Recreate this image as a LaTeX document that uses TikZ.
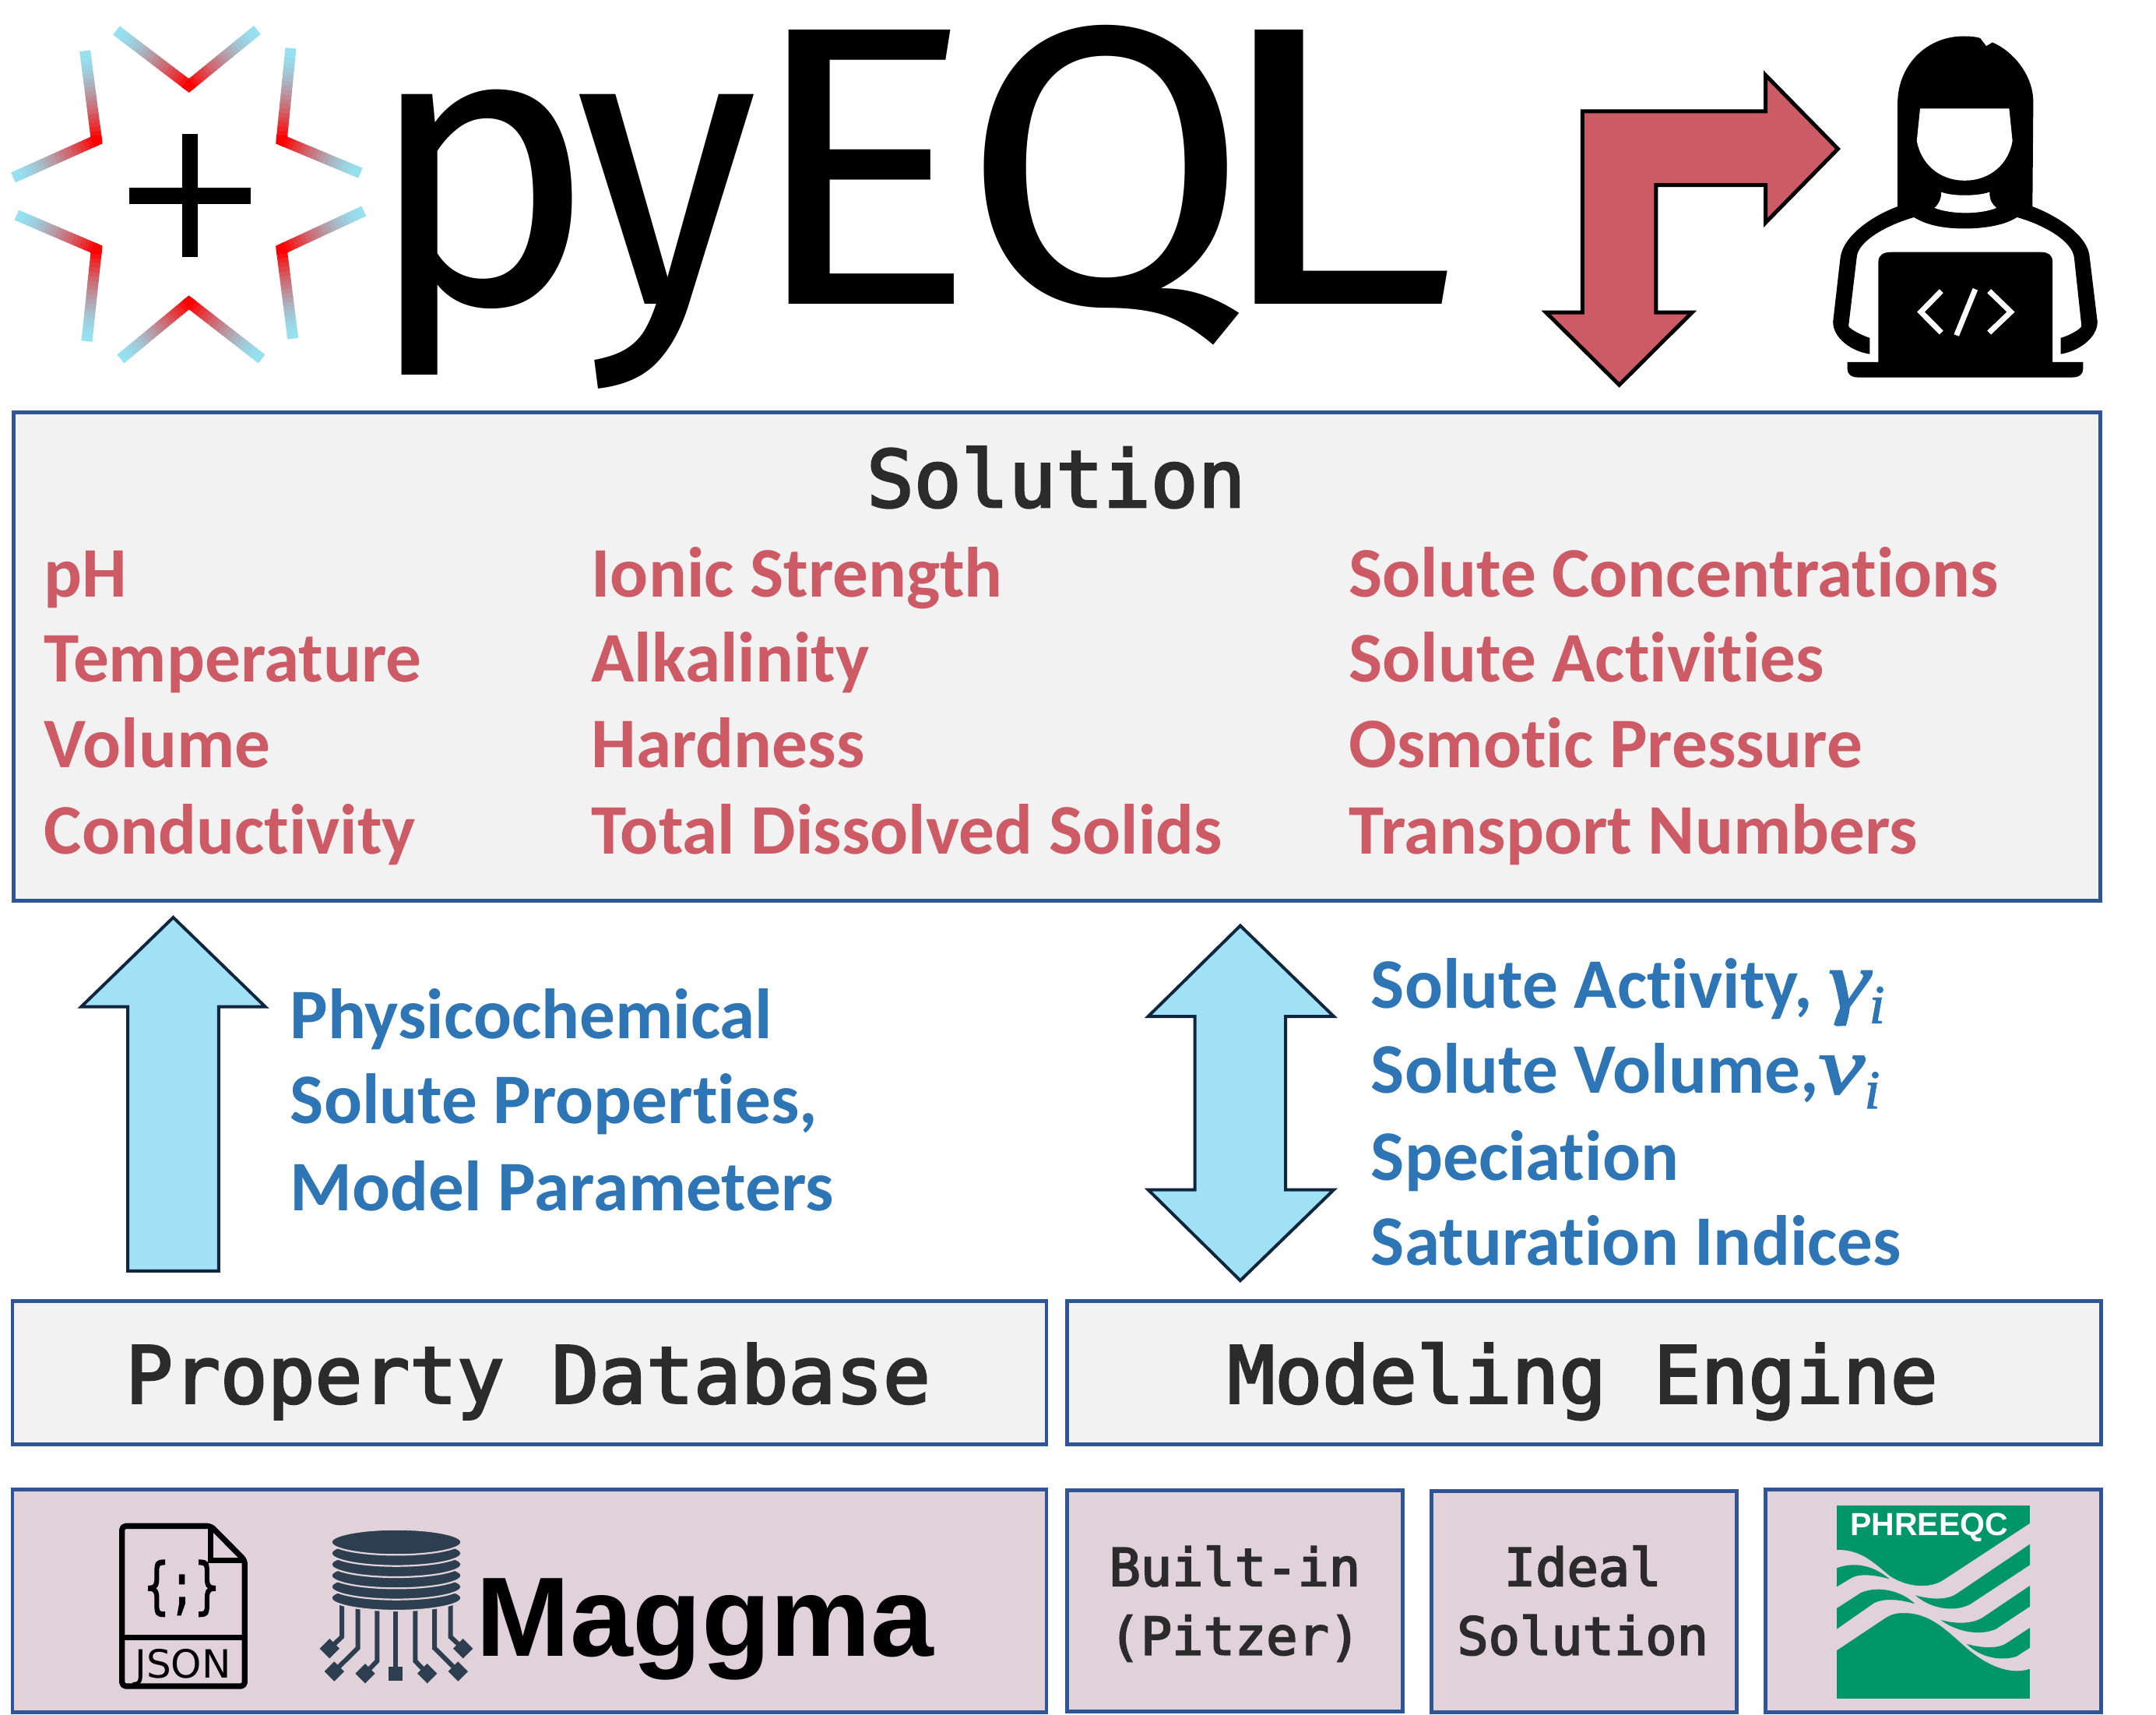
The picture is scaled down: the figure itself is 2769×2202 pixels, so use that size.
\documentclass[tikz,border=0pt]{standalone}
\usepackage{fontspec}
\usetikzlibrary{calc}
\setmainfont{Carlito}[Ligatures=NoCommon]
\newfontfamily\logofont{Fira Sans}
\newfontfamily\monofont{DejaVu Sans Mono}[FakeBold=3]
\newfontfamily\iconmono{DejaVu Sans Mono}[FakeBold=2]
\newfontfamily\arialfont{Liberation Sans}
\newfontfamily\mathish{Liberation Serif}[FakeBold=2]
\newfontfamily\djvfont{DejaVu Sans}
\newcommand\fs[1]{\fontsize{#1}{#1}\selectfont}
\definecolor{boxline}{HTML}{2F5597}
\definecolor{boxfill}{HTML}{F2F2F2}
\definecolor{stackfill}{HTML}{E0D2D8}
\definecolor{redtext}{HTML}{CD5B66}
\definecolor{bluetext}{HTML}{2E75B6}
\definecolor{arrowblue}{HTML}{A0E1F5}
\definecolor{arrowline}{HTML}{10263F}
\definecolor{monotext}{HTML}{2B2B2B}
\definecolor{logoblue}{HTML}{96E0F0}
\definecolor{dbnavy}{HTML}{2C3E50}
\definecolor{phgreen}{HTML}{009668}
\newcommand\chevarm[4]{%
  \foreach \t in {0,...,19}{%
    \pgfmathtruncatemacro\pct{100*(1-\t/19)^1.5}%
    \draw[line width=14pt,color=red!\pct!logoblue,line cap=butt]
      ($(#1,#2)!\t/20!(#3,#4)$) -- ($(#1,#2)!{(\t+1.25)/20}!(#3,#4)$);
  }}
\newcommand\chev[6]{%
  \chevarm{#1}{#2}{#3}{#4}\chevarm{#1}{#2}{#5}{#6}%
  \draw[line width=14pt,red,line join=miter,miter limit=10]
    ($(#1,#2)!0.05!(#3,#4)$) -- (#1,#2) -- ($(#1,#2)!0.05!(#5,#6)$);}
\tikzset{
  boxa/.style={draw=boxline,line width=4.8pt,fill=boxfill,inner sep=0pt},
  boxb/.style={draw=boxline,line width=4.8pt,fill=stackfill,inner sep=0pt},
  monolabel/.style={font=\monofont\fs{101},text=monotext,inner sep=0pt},
  smallmono/.style={font=\monofont\fs{67},text=monotext,inner sep=0pt,align=center},
  redlabel/.style={font=\bfseries\fs{91.3},text=redtext,inner sep=0pt,anchor=base west},
  bluelabel/.style={font=\bfseries\fs{91.3},text=bluetext,inner sep=0pt,anchor=base west},
  blockarrow/.style={fill=arrowblue,draw=arrowline,line width=4pt,line join=miter},
  wire/.style={draw=dbnavy,line width=6pt,line join=miter},
  dbdisc/.style={fill=dbnavy,draw=stackfill,line width=2.2pt},
  logoletter/.style={anchor=base west,inner sep=0pt,font=\logofont\fs{511},transform shape},
}
\newcommand\mathgl[1]{{\mathish\mdseries\itshape\fs{104}\scalebox{1.28}[1]{#1}}}
\newcommand\mathsub{{\mathish\mdseries\itshape\raisebox{-19pt}{\fs{70}i}}}
\begin{document}
\begin{tikzpicture}[x=1pt,y=-1pt]
\useasboundingbox (0,0) rectangle (2769,2202);
\fill[white] (0,0) rectangle (2769,2202);

% ---- logo star
\begin{scope}[x=0.33333pt,y=-0.33333pt]
\chev{728}{330}{452}{120}{988}{118}
\chev{372}{540}{328}{200}{55}{682}
\chev{1085}{540}{1120}{190}{1385}{665}
\chev{372}{960}{335}{1310}{68}{830}
\chev{1085}{960}{1128}{1300}{1398}{815}
\chev{728}{1165}{468}{1380}{1005}{1380}
\draw[line width=20pt,black] (732,515) -- (732,990);
\draw[line width=21pt,black] (497,755) -- (967,755);
\end{scope}

% ---- title letters
\begin{scope}
\clip (400,0) rectangle (900,480);
\node[logoletter,xscale=0.98] (tp) at (468,390) {p};
\end{scope}
\node[logoletter,xscale=0.93] (ty) at (739,390) {y};
\node[logoletter,xscale=1.09] (te) at (957,390) {E};
\node[logoletter,xscale=1.05] (tq) at (1234,390) {Q};
\node[logoletter,xscale=1.28] (tl) at (1546,390) {L};

% ---- main display-coordinates scope
\begin{scope}[x=1.766pt,y=-1.766pt]
% boxes
\node[boxa,minimum width=2680pt,minimum height=627pt] (solbox) at (768.5,477.5) {};
\node[boxa,minimum width=1328pt,minimum height=184pt] (dbbox) at (385,998) {};
\node[boxa,minimum width=1328pt,minimum height=184pt] (engbox) at (1152,998) {};
\node[boxb,minimum width=1328pt,minimum height=286pt] (magbox) at (385,1164) {};
\node[boxb,minimum width=431pt,minimum height=284pt] (builtbox) at (898,1164) {};
\node[boxb,minimum width=392pt,minimum height=284pt] (idealbox) at (1152,1164.5) {};
\node[boxb,minimum width=431pt,minimum height=286pt] (phbox) at (1406,1164) {};

% solution text
\node[monolabel,anchor=base] (soltitle) at (768,368.5) {Solution};
\node[redlabel] (c1a) at (32,434) {pH};
\node[redlabel] (c1b) at (32,496) {Temperature};
\node[redlabel] (c1c) at (32,558) {Volume};
\node[redlabel] (c1d) at (32,621) {Conductivity};
\node[redlabel] (c2a) at (430,434) {Ionic Strength};
\node[redlabel] (c2b) at (430,496) {Alkalinity};
\node[redlabel] (c2c) at (430,558) {Hardness};
\node[redlabel] (c2d) at (430,621) {Total Dissolved Solids};
\node[redlabel] (c3a) at (981,434) {Solute Concentrations};
\node[redlabel] (c3b) at (981,496) {Solute Activities};
\node[redlabel] (c3c) at (981,558) {Osmotic Pressure};
\node[redlabel] (c3d) at (981,621) {Transport Numbers};

% block arrows
\path[blockarrow] (126,667) -- (193,732) -- (159,732) -- (159,924) -- (93,924) -- (93,732) -- (59,732) -- cycle;
\path[blockarrow] (902,673) -- (970,739) -- (935,739) -- (935,865) -- (970,865) -- (902,931) -- (835,865) -- (869,865) -- (869,739) -- (835,739) -- cycle;

% blue text
\node[bluelabel] (p1) at (211,755) {Physicochemical};
\node[bluelabel] (p2) at (211,817) {Solute Properties,};
\node[bluelabel] (p3) at (211,880) {Model Parameters};
\node[bluelabel] (s1) at (997,733) {Solute Activity, \mathgl{γ}\mathsub};
\node[bluelabel] (s2) at (997,795) {Solute Volume,\mathgl{v}\mathsub};
\node[bluelabel] (s3) at (997,858) {Speciation};
\node[bluelabel] (s4) at (997,920) {Saturation Indices};

% mono labels
\node[monolabel,anchor=base] (dblabel) at (384,1020) {Property Database};
\node[monolabel,anchor=base] (englabel) at (1151,1020) {Modeling Engine};
\node[smallmono,anchor=base] (bl1) at (898,1153) {Built-in};
\node[smallmono,anchor=base] (bl2) at (898,1203) {(Pitzer)};
\node[smallmono,anchor=base] (il1) at (1151,1153) {Ideal};
\node[smallmono,anchor=base] (il2) at (1151,1203) {Solution};
\node[anchor=base west,inner sep=0pt,font=\arialfont\bfseries\fs{145}] (maggma) at (346,1204) {Maggma};
\end{scope}

% ---- red bent arrow and person (zoom 2 coordinates)
\begin{scope}[shift={(1950pt,0pt)},x=0.5249pt,y=-0.3444pt]
\path[fill=redtext,draw=black,line width=5pt,line join=miter]
  (157,415) -- (605,415) -- (605,280) -- (782,555) -- (605,830) -- (605,690) -- (337,690) -- (337,1165) -- (425,1165) -- (247,1435) -- (68,1165) -- (157,1165) -- cycle;
% hair, collar and arms
\fill[black]
  (928,770) -- (928,380) .. controls (930,240) and (1000,135) .. (1090,135)
  .. controls (1105,135) and (1120,137) .. (1130,142) -- (1145,172) -- (1160,158)
  .. controls (1210,190) and (1260,280) .. (1260,380) -- (1258,770)
  .. controls (1320,805) and (1395,880) .. (1398,960) -- (1417,1200)
  .. controls (1417,1260) and (1370,1310) .. (1327,1320) -- (1327,1260)
  .. controls (1350,1250) and (1378,1225) .. (1378,1215) -- (1360,960)
  .. controls (1355,900) and (1290,840) .. (1220,810)
  .. controls (1190,840) and (1140,852) .. (1092,852)
  .. controls (1040,852) and (1000,840) .. (968,810)
  .. controls (900,840) and (830,900) .. (828,960) -- (808,1215)
  .. controls (808,1225) and (840,1250) .. (860,1260) -- (860,1320)
  .. controls (815,1310) and (770,1260) .. (770,1200) -- (788,960)
  .. controls (795,880) and (865,805) .. (928,770) -- cycle;
\fill[white] (983,405) -- (1201,405) -- (1209,525)
  .. controls (1200,610) and (1155,673) .. (1092,673)
  .. controls (1030,673) and (985,610) .. (975,525) -- cycle;
\fill[white] (1035,716) .. controls (1060,732) and (1125,732) .. (1153,716)
  .. controls (1153,745) and (1158,760) .. (1170,775)
  .. controls (1130,800) and (1060,800) .. (1018,775)
  .. controls (1030,760) and (1035,740) .. (1035,716) -- cycle;
% laptop
\fill[black] (881,975) .. controls (881,950) and (895,940) .. (910,940) -- (1280,940)
  .. controls (1295,940) and (1307,950) .. (1307,975) -- (1307,1350) -- (1382,1350) -- (1382,1375)
  .. controls (1382,1395) and (1372,1407) .. (1355,1407) -- (832,1407)
  .. controls (815,1407) and (805,1395) .. (805,1375) -- (805,1350) -- (881,1350) -- cycle;
\draw[white,line width=7pt,line join=miter] (1035,1085) -- (985,1163) -- (1035,1240);
\draw[white,line width=7pt] (1118,1078) -- (1072,1250);
\draw[white,line width=7pt,line join=miter] (1152,1085) -- (1205,1163) -- (1152,1240);
\end{scope}

% ---- JSON icon (true 3x crop coordinates)
\begin{scope}[shift={(130pt,-1950pt)},x=0.33333pt,y=-0.33333pt]
\draw[black,line width=7.3pt,line join=round,rounded corners=5pt] (422,28) -- (80,28) -- (80,645) -- (553,645) -- (553,160) -- cycle;
\draw[black,line width=7.3pt] (422,28) -- (422,160) -- (553,160);
\draw[black,line width=7.3pt] (80,458) -- (553,458);
\node[inner sep=0pt,font=\iconmono\fs{54},yscale=1.45,transform shape] (braces) at (311,268) {\{;\}};
\node[inner sep=0pt,anchor=base,font=\djvfont\fs{50}] (jsonlabel) at (315,612) {JSON};
\end{scope}

% ---- database icon (true 3x crop coordinates)
\begin{scope}[shift={(400pt,-1950pt)},x=0.33333pt,y=-0.33333pt]
\foreach \wa/\wb/\wc/\wd in {117/455/70/500,179/498/88/588,253/548/207/596,400/548/446/596,474/498/565/588,536/455/584/500}{
  \draw[wire] (\wa,320) -- (\wa,\wb) -- (\wc,\wd);
  \fill[dbnavy] (\wc,\wd-38) -- (\wc+38,\wd) -- (\wc,\wd+38) -- (\wc-38,\wd) -- cycle;
}
\draw[wire] (324,320) -- (324,570);
\fill[dbnavy] (297,570) rectangle (352,625);
\foreach \yy in {305,262,219,176,133,90}{
  \path[dbdisc] (327,\yy) ellipse [x radius=251, y radius=49];
}
\end{scope}

% ---- PHREEQC logo (zoom 4 coordinates)
\begin{scope}[shift={(2280pt,-1920pt)},x=0.33333pt,y=-0.33333pt]
\fill[phgreen] (237,40) rectangle (981,782);
\node[inner sep=0pt,anchor=base west,text=white,font=\arialfont\bfseries\fs{41}] (phtitle) at (288,155) {PHREEQC};
\fill[stackfill] (237,210) .. controls (330,208) and (380,260) .. (440,310)
  .. controls (500,350) and (590,365) .. (650,325) -- (981,108) -- (981,668)
  .. controls (900,695) and (810,650) .. (740,590)
  .. controls (660,520) and (600,455) .. (500,453)
  .. controls (470,453) and (450,455) .. (420,475) -- (237,597) -- cycle;
\fill[phgreen] (237,280) .. controls (320,250) and (390,280) .. (440,322)
  .. controls (380,305) and (320,300) .. (290,320) -- (237,352) -- cycle;
\fill[phgreen] (237,435) -- (330,375) .. controls (400,345) and (490,370) .. (538,418)
  .. controls (480,400) and (420,395) .. (380,415) -- (237,515) -- cycle;
\fill[phgreen] (540,385) .. controls (610,405) and (670,400) .. (700,378) -- (981,188) -- (981,268) -- (750,420)
  .. controls (680,455) and (590,430) .. (540,385) -- cycle;
\fill[phgreen] (638,480) .. controls (710,500) and (770,490) .. (800,470) -- (981,348) -- (981,428) -- (850,515)
  .. controls (780,545) and (690,520) .. (638,480) -- cycle;
\fill[phgreen] (737,572) .. controls (800,590) and (860,590) .. (890,570) -- (981,510) -- (981,587) -- (930,620)
  .. controls (870,640) and (790,625) .. (737,572) -- cycle;
\end{scope}
\end{tikzpicture}
\end{document}
